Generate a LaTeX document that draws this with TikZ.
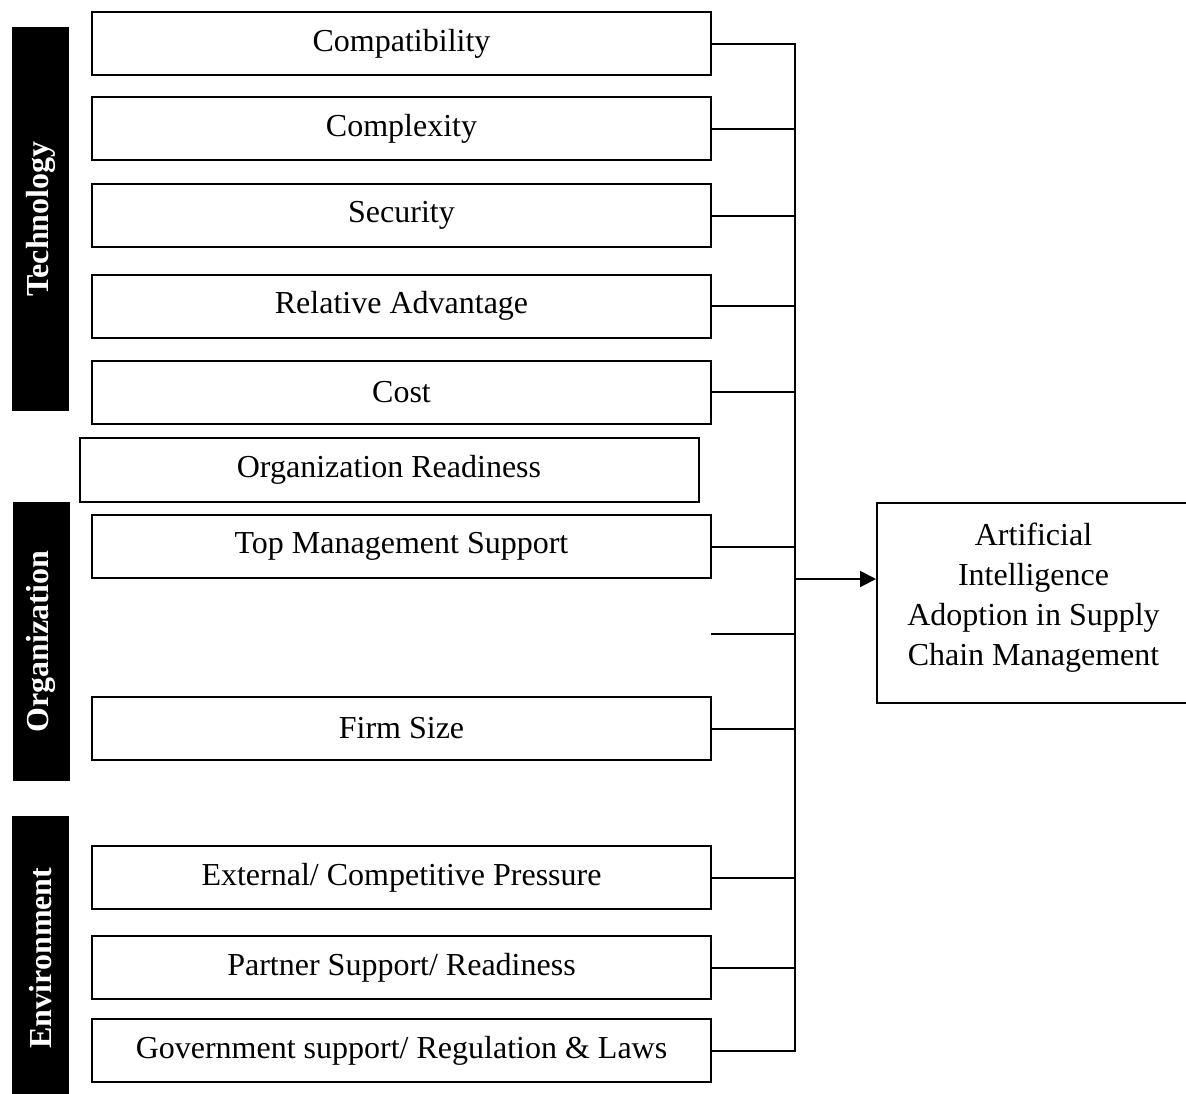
\documentclass[tikz,border=0pt]{standalone}
\usepackage{fontspec}
\setmainfont{Liberation Serif}
\usetikzlibrary{arrows.meta}

\begin{document}
\begin{tikzpicture}[x=0.5pt,y=-0.5pt,line width=1pt,
	factor/.style={draw,minimum width=309.5pt,minimum height=31.5pt,inner sep=0pt,font=\fontsize{16}{20}\selectfont},
	group/.style={fill=black,text=white,rotate=90,minimum height=28.5pt,inner sep=0pt,font=\fontsize{16}{20}\selectfont\bfseries},
	outcome/.style={draw,minimum width=156.5pt,minimum height=100pt,inner sep=0pt,text depth=9pt,align=center,font=\fontsize{16}{20}\selectfont}]
			\useasboundingbox (0,0) rectangle (1186,1093);
			% groups
			\node[group,minimum width=192pt] (tech) at (40.5,219) {Technology};
			\node[group,minimum width=139.5pt] (org) at (41,641.5) {Organization};
			\node[group,minimum width=142pt] (env) at (40.5,958) {Environment};
			% factors
			\node[factor] (cpt) at (401.5,43.5) {Compatibility};
			\node[factor] (cpx) at (401.5,128.5) {Complexity};
			\node[factor] (sec) at (401.5,215.5) {Security};
			\node[factor] (adv) at (401.5,306) {Relative Advantage};
			\node[factor] (cost) at (401.5,392) {Cost};
			\node[factor,minimum height=32pt] (ready) at (389,470) {Organization Readiness};
			\node[factor] (tms) at (401.5,546.5) {Top Management Support};
			\node[factor] (size) at (401.5,728.5) {Firm Size};
			\node[factor] (ext) at (401.5,877.5) {External/ Competitive Pressure};
			\node[factor] (prt) at (401.5,967.5) {Partner Support/ Readiness};
			\node[factor] (gov) at (401.5,1050.5) {Government support/ Regulation \& Laws};
			% outcome
			\node[outcome] (res) at (1033.5,603) {Artificial\\Intelligence\\Adoption in Supply\\Chain Management};
			% connectors
			\coordinate (join) at (795,579);
			\coordinate (gap) at (711,634);
			\draw (cpt.east) -| (join) (gov.east) -| (join);
			\foreach \f in {cpx,sec,adv,cost,tms,size,ext,prt}
				\draw (\f.east) -- (\f.east -| join);
			\draw (gap) -- (gap -| join);
			\draw[-{Triangle[length=8pt,width=8pt]}] (join) -- (join -| res.west);
		\end{tikzpicture}
\end{document}
